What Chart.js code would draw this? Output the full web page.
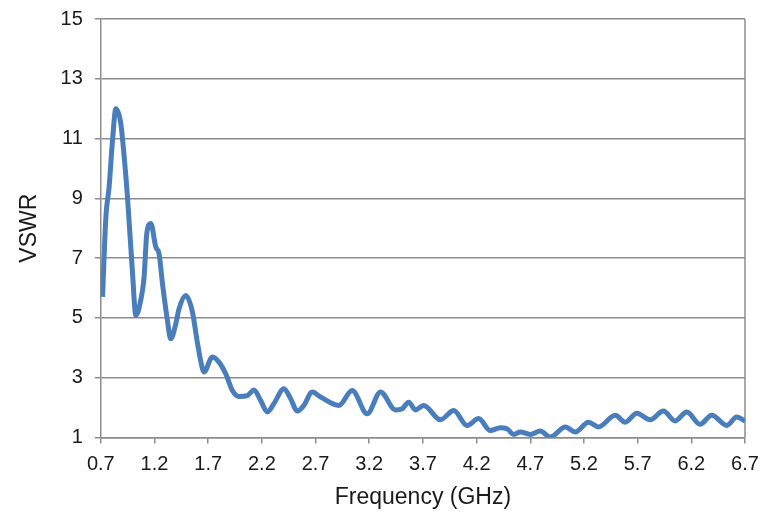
<!DOCTYPE html>
<html>
<head>
<meta charset="utf-8">
<script src="https://cdn.jsdelivr.net/npm/chart.js@4/dist/chart.umd.min.js"></script>
<style>
    html, body { margin: 0; padding: 0; background: #fff; }
    #wrap { width: 773px; height: 512px; }
</style>
</head>
<body>
<div id="wrap"><canvas id="vswrChart"></canvas></div>
<script>
// Valores
const freqGHz = [0.716, 0.747, 0.777, 0.809, 0.840, 0.886, 0.917, 0.948, 0.995, 1.026,
    1.072, 1.103, 1.128, 1.165, 1.212, 1.242, 1.274, 1.320, 1.351, 1.398,
    1.428, 1.491, 1.553, 1.600, 1.646, 1.661, 1.739, 1.800, 1.863, 1.925,
    1.987, 2.065, 2.126, 2.188, 2.251, 2.312, 2.405, 2.467, 2.530, 2.591,
    2.669, 2.747, 2.917, 3.041, 3.181, 3.305, 3.444, 3.507, 3.568, 3.630,
    3.707, 3.863, 3.987, 4.111, 4.219, 4.328, 4.421, 4.483, 4.545, 4.607,
    4.700, 4.793, 4.886, 5.026, 5.119, 5.242, 5.335, 5.491, 5.584, 5.693,
    5.816, 5.940, 6.049, 6.158, 6.281, 6.391, 6.530, 6.623, 6.700];
const vswr = [5.7, 8.38, 9.38, 10.95, 12.0, 11.5, 10.4, 9.05, 6.5, 5.08,
    5.6, 6.37, 7.83, 8.16, 7.37, 7.15, 6.15, 4.92, 4.3, 4.8,
    5.3, 5.75, 5.2, 4.15, 3.3, 3.19, 3.69, 3.52, 3.13, 2.57,
    2.37, 2.40, 2.59, 2.24, 1.85, 2.13, 2.63, 2.3, 1.88, 2.07,
    2.52, 2.35, 2.07, 2.57, 1.79, 2.52, 1.92, 1.96, 2.18, 1.92,
    2.07, 1.59, 1.90, 1.40, 1.63, 1.23, 1.32, 1.29, 1.10, 1.18,
    1.10, 1.21, 1.01, 1.35, 1.18, 1.51, 1.35, 1.74, 1.51, 1.81,
    1.59, 1.88, 1.55, 1.85, 1.44, 1.74, 1.40, 1.68, 1.55];
const xTicks = [0.7, 1.2, 1.7, 2.2, 2.7, 3.2, 3.7, 4.2, 4.7, 5.2, 5.7, 6.2, 6.7];
const yTicks = [1, 3, 5, 7, 9, 11, 13, 15];

const gridGray = '#8c8c8c';
const textColor = '#1a1a1a';

// Borde derecho del área de trazado
const rightBorder = {
    id: 'rightBorder',
    beforeDatasetsDraw(chart) {
        const { ctx, chartArea } = chart;
        ctx.save();
        ctx.strokeStyle = gridGray;
        ctx.lineWidth = 1.5;
        ctx.beginPath();
        ctx.moveTo(chartArea.right, chartArea.top);
        ctx.lineTo(chartArea.right, chartArea.bottom);
        ctx.stroke();
        ctx.restore();
    }
};

new Chart(document.getElementById('vswrChart').getContext('2d'), {
    type: 'line',
    data: {
        datasets: [{
            label: 'VSWR',
            data: freqGHz.map((f, i) => ({ x: f, y: vswr[i] })),
            borderColor: '#4a7dbb',
            borderWidth: 5,
            pointRadius: 0,
            cubicInterpolationMode: 'monotone',
            fill: false
        }]
    },
    options: {
        responsive: true,
        maintainAspectRatio: false,
        animation: false,
        layout: { padding: { top: 19, right: 28, left: 6, bottom: 0 } },
        plugins: {
            legend: { display: false },
            tooltip: { enabled: false }
        },
        scales: {
            x: {
                type: 'linear',
                min: 0.7,
                max: 6.7,
                afterBuildTicks: scale => { scale.ticks = xTicks.map(v => ({ value: v })); },
                grid: {
                    drawOnChartArea: false,
                    drawTicks: true,
                    tickLength: 6,
                    color: gridGray,
                    lineWidth: 1.5
                },
                border: { color: gridGray, width: 1.5 },
                ticks: {
                    color: textColor,
                    font: { family: 'Liberation Sans', size: 20 },
                    maxRotation: 0,
                    padding: 9,
                    callback: v => v.toFixed(1)
                },
                title: {
                    display: true,
                    text: 'Frequency (GHz)',
                    color: textColor,
                    font: { family: 'Liberation Sans', size: 23 },
                    padding: { top: -2, bottom: 1 }
                }
            },
            y: {
                min: 1,
                max: 15,
                afterBuildTicks: scale => { scale.ticks = yTicks.map(v => ({ value: v })); },
                afterFit: scale => { scale.paddingTop = 0; },
                grid: {
                    drawTicks: true,
                    tickLength: 6,
                    color: gridGray,
                    lineWidth: 1.5
                },
                border: { color: gridGray, width: 1.5 },
                ticks: {
                    color: textColor,
                    font: { family: 'Liberation Sans', size: 20 },
                    padding: 12
                },
                title: {
                    display: true,
                    text: 'VSWR',
                    color: textColor,
                    font: { family: 'Liberation Sans', size: 23 },
                    padding: { top: 10, bottom: 5 }
                }
            }
        }
    },
    plugins: [rightBorder]
});
</script>
</body>
</html>
